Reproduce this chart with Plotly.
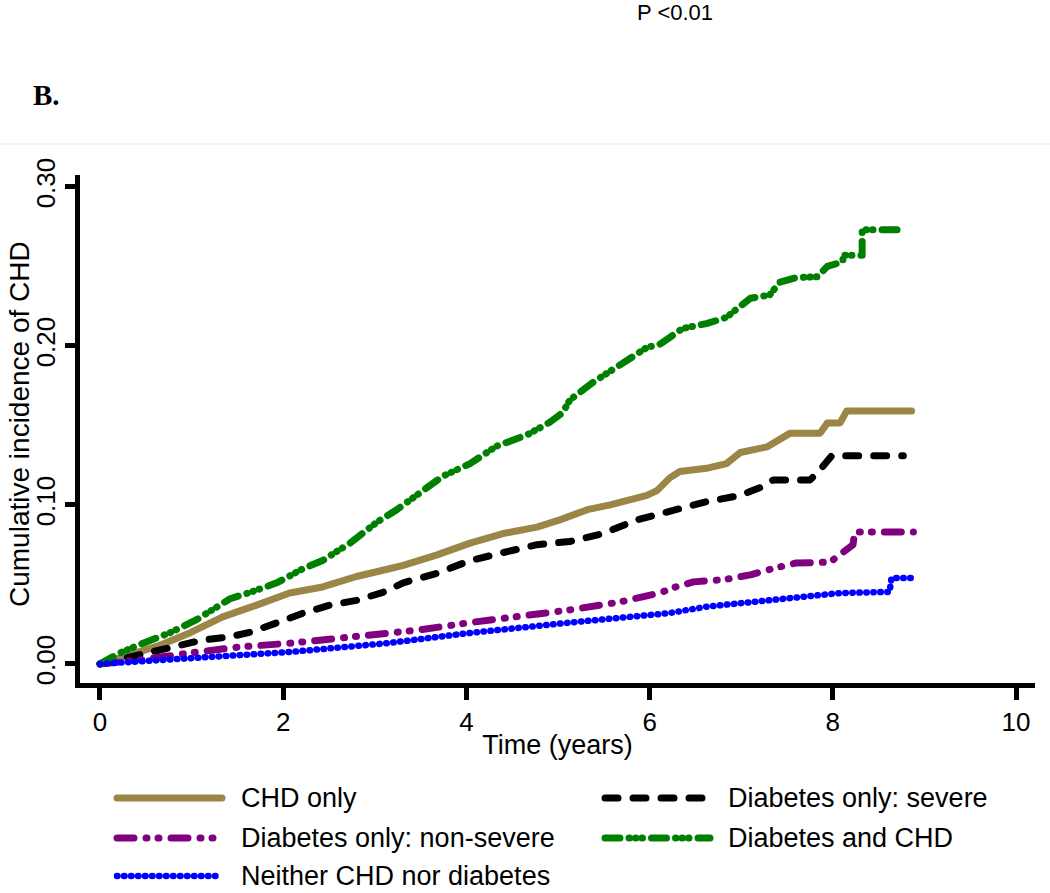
import plotly.graph_objects as go

# ---------------- data ----------------
series_names = ["CHD only", "Diabetes only: severe", "Diabetes only: non-severe",
                "Diabetes and CHD", "Neither CHD nor diabetes"]

chd_t = [0, 0.25, 0.62, 0.98, 1.34, 1.71, 2.07, 2.43, 2.80, 3.17, 3.31, 3.68, 4.04, 4.40,
         4.77, 5.02, 5.32, 5.57, 5.97, 6.08, 6.22, 6.33, 6.62, 6.84, 6.99, 7.28, 7.42, 7.53,
         7.86, 7.94, 8.08, 8.15, 8.86]
chd_v = [0, 0.0044, 0.011, 0.0195, 0.0296, 0.037, 0.0446, 0.0484, 0.055, 0.060, 0.062,
         0.0686, 0.076, 0.082, 0.086, 0.0906, 0.097, 0.100, 0.106, 0.109, 0.117, 0.121,
         0.123, 0.126, 0.133, 0.1365, 0.141, 0.145, 0.145, 0.1516, 0.1516, 0.159, 0.159]

sev_t = [0, 0.33, 0.62, 0.91, 1.12, 1.42, 1.64, 1.93, 2.22, 2.51, 2.80, 3.09, 3.31, 3.68,
         4.04, 4.40, 4.77, 5.13, 5.49, 5.86, 6.26, 6.62, 6.99, 7.21, 7.35, 7.75, 7.83, 7.91,
         7.99, 8.77]
sev_v = [0, 0.0044, 0.0075, 0.012, 0.015, 0.017, 0.020, 0.0258, 0.032, 0.037, 0.040, 0.045,
         0.051, 0.057, 0.065, 0.070, 0.075, 0.077, 0.082, 0.0906, 0.097, 0.102, 0.106, 0.111,
         0.1157, 0.1157, 0.120, 0.125, 0.131, 0.131]

nsev_t = [0, 0.44, 0.98, 1.53, 2.07, 2.62, 3.13, 3.49, 4.04, 4.59, 5.13, 5.68, 5.90, 6.11,
          6.26, 6.48, 6.81, 7.10, 7.35, 7.60, 7.97, 8.08, 8.22, 8.24, 8.88]
nsev_v = [0, 0.0025, 0.0069, 0.0107, 0.013, 0.016, 0.0195, 0.0214, 0.026, 0.0296, 0.034,
          0.039, 0.0415, 0.0446, 0.048, 0.0516, 0.053, 0.056, 0.060, 0.0635, 0.064, 0.0686,
          0.075, 0.083, 0.083]

both_t = [0, 0.22, 0.47, 0.76, 1.06, 1.42, 1.64, 1.93, 2.22, 2.43, 2.73, 3.02, 3.24, 3.49,
          3.74, 4.04, 4.33, 4.66, 4.91, 5.05, 5.13, 5.38, 5.68, 5.97, 6.11, 6.36, 6.62, 6.84,
          6.99, 7.10, 7.31, 7.42, 7.60, 7.83, 7.94, 8.11, 8.11, 8.32, 8.32, 8.79]
both_v = [0, 0.007, 0.013, 0.0195, 0.028, 0.041, 0.045, 0.051, 0.060, 0.065, 0.076, 0.089,
          0.097, 0.108, 0.118, 0.126, 0.137, 0.144, 0.152, 0.158, 0.166, 0.177, 0.188, 0.199,
          0.201, 0.211, 0.214, 0.218, 0.225, 0.230, 0.232, 0.240, 0.243, 0.2435, 0.250,
          0.253, 0.257, 0.257, 0.273, 0.273]

none_t = [0, 0.98, 2.07, 3.13, 4.04, 5.13, 5.90, 6.22, 6.62, 7.35, 8.08, 8.62, 8.64, 8.88]
none_v = [0, 0.0038, 0.0075, 0.013, 0.0195, 0.026, 0.0296, 0.032, 0.036, 0.040, 0.0446,
          0.0453, 0.054, 0.054]

x_ticks = [0, 2, 4, 6, 8, 10]
x_tick_labels = ["0", "2", "4", "6", "8", "10"]
y_ticks = [0.0, 0.1, 0.2, 0.3]
y_tick_labels = ["0.00", "0.10", "0.20", "0.30"]

# ---------------- styles ----------------
colors = ["#9b8547", "#000000", "#800080", "#008000", "#0000ff"]
dashes = ["solid", "13px,15px", "17px,12px,1px,11px,1px,12px",
          "15px,9px,0.5px,6px,0.5px,6px,0.5px,9px", "0.5px,6.5px"]
widths = [7, 7, 7, 7, 6.5]
xs = [chd_t, sev_t, nsev_t, both_t, none_t]
ys = [chd_v, sev_v, nsev_v, both_v, none_v]

SANS = "Liberation Sans, Arial, sans-serif"

fig = go.Figure()
for name, x, y, c, d, w in zip(series_names, xs, ys, colors, dashes, widths):
    fig.add_trace(go.Scatter(x=x, y=y, mode="lines", name=name,
                             line=dict(color=c, width=w, dash=d),
                             showlegend=False, hoverinfo="skip"))

# ---------------- manual legend (long line samples) ----------------
L, R, T, B = 80, 15, 175, 210
W, H = 1050, 893
pw, ph = W - L - R, H - T - B


def px(xp):
    return (xp - L) / pw


def py(yp):
    return (H - B - yp) / ph


legend_slots = [(117, 222, 239, 798), (605, 710, 726, 798),
                (117, 222, 239, 838), (605, 710, 726, 838),
                (117, 222, 239, 876)]
shapes = []
annotations = []
for (x0, x1, xt, yy), name, c, d, w in zip(legend_slots, series_names, colors, dashes, widths):
    shapes.append(dict(type="line", xref="paper", yref="paper",
                       x0=px(x0), x1=px(x1), y0=py(yy), y1=py(yy),
                       line=dict(color=c, width=w, dash=d)))
    annotations.append(dict(text=name, xref="paper", yref="paper", x=px(xt), y=py(yy),
                            xanchor="left", yanchor="middle", showarrow=False,
                            font=dict(family=SANS, size=27, color="black")))

# separator line and texts at top
shapes.append(dict(type="line", xref="paper", yref="paper", x0=px(0), x1=px(W),
                   y0=py(144), y1=py(144), line=dict(color="#eef2f2", width=1.5)))
annotations.append(dict(text="P <0.01", xref="paper", yref="paper", x=px(675), y=py(13),
                        xanchor="center", yanchor="middle", showarrow=False,
                        font=dict(family=SANS, size=22, color="black")))
annotations.append(dict(text="<b>B.</b>", xref="paper", yref="paper", x=px(31), y=py(95),
                        xanchor="left", yanchor="middle", showarrow=False,
                        font=dict(family="Liberation Serif, Times New Roman, serif",
                                  size=29, color="black")))
# y-axis title, placed close to the tick labels as in the reference
annotations.append(dict(text="Cumulative incidence of CHD", xref="paper", yref="paper",
                        x=px(19), y=py(424), xanchor="center", yanchor="middle",
                        textangle=-90, showarrow=False,
                        font=dict(family=SANS, size=28, color="black")))

fig.update_layout(
    width=W, height=H,
    margin=dict(l=L, r=R, t=T, b=B, autoexpand=False),
    paper_bgcolor="white", plot_bgcolor="white",
    showlegend=False,
    shapes=shapes, annotations=annotations,
    font=dict(family=SANS, color="black"),
    xaxis=dict(range=[-0.218, 10.207], showgrid=False, zeroline=False,
               showline=True, linewidth=5, linecolor="black",
               ticks="outside", ticklen=12, tickwidth=5, tickcolor="black",
               tickvals=x_ticks, ticktext=x_tick_labels,
               tickfont=dict(family=SANS, size=26),
               title=dict(text="Time (years)", font=dict(family=SANS, size=27), standoff=0)),
    yaxis=dict(range=[-0.012, 0.3075], showgrid=False, zeroline=False,
               showline=True, linewidth=5, linecolor="black",
               ticks="outside", ticklen=10, tickwidth=5, tickcolor="black",
               tickvals=y_ticks, ticktext=y_tick_labels, tickangle=-90,
               tickfont=dict(family=SANS, size=26), ticklabelstandoff=0),
)

post = ("var s=document.createElement('style');"
        "s.innerHTML='html,body{margin:0;padding:0;overflow:hidden;}"
        ".scatterlayer path.js-line, .shapelayer path{stroke-linecap:round;stroke-linejoin:round;}';"
        "document.head.appendChild(s);")
fig.write_html("out.html", post_script=post, config={"displayModeBar": False})
